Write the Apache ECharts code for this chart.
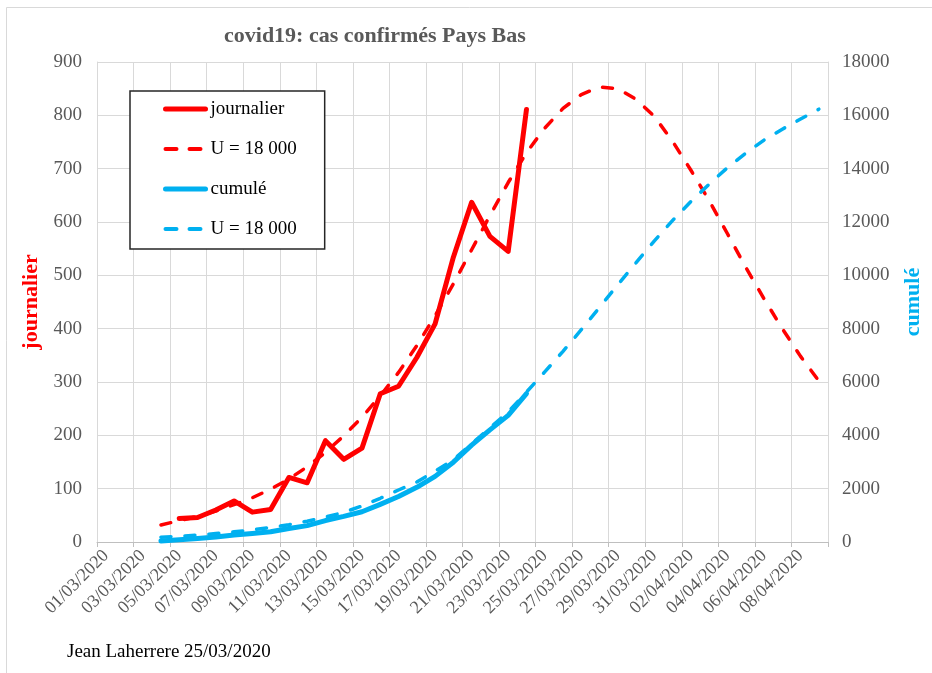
<!DOCTYPE html>
<html lang="fr">
<head>
    <meta charset="UTF-8">
    <title>covid19: cas confirmés Pays Bas</title>
    <style>
        html, body {margin: 0; padding: 0; background: #fff;}
        #main {width: 932px; height: 673px;}
    </style>
</head>
<body>
<div id="main"></div>
<script src="https://cdn.jsdelivr.net/npm/echarts@6/dist/echarts.min.js"></script>
<script>
    // jours (axe des x)
    let dates = [
        '01/03/2020', '02/03/2020', '03/03/2020', '04/03/2020', '05/03/2020', '06/03/2020', '07/03/2020',
        '08/03/2020', '09/03/2020', '10/03/2020', '11/03/2020', '12/03/2020', '13/03/2020', '14/03/2020',
        '15/03/2020', '16/03/2020', '17/03/2020', '18/03/2020', '19/03/2020', '20/03/2020', '21/03/2020',
        '22/03/2020', '23/03/2020', '24/03/2020', '25/03/2020', '26/03/2020', '27/03/2020', '28/03/2020',
        '29/03/2020', '30/03/2020', '31/03/2020', '01/04/2020', '02/04/2020', '03/04/2020', '04/04/2020',
        '05/04/2020', '06/04/2020', '07/04/2020', '08/04/2020', '09/04/2020'
    ];

    // cas journaliers, à partir du 05/03
    let journalierStart = '05/03/2020';
    let journalier = [44, 46, 60, 77, 56, 61, 121, 111, 190, 155, 176, 278, 292, 346, 409, 534, 637, 573, 545, 811];

    // modèle journalier U = 18 000, à partir du 04/03
    let modeleStart = '04/03/2020';
    let modeleJour = [32, 40, 48, 58, 70, 83, 99, 118, 141, 168,
        199, 234, 274, 318, 368, 424, 484, 548, 612, 674,
        730, 776, 813, 839, 853, 850, 830, 798, 751, 697,
        640, 578, 515, 456, 400, 348, 302];

    // cumul, à partir du 04/03
    let cumuleStart = '04/03/2020';
    let cumule = [38, 82, 128, 188, 265, 321, 382, 503, 614, 804, 959, 1135, 1413, 1705, 2051, 2460, 2994,
        3631, 4204, 4749, 5560];

    // modèle cumulé U = 18 000, à partir du 04/03
    let modeleCumul = [180, 215, 260, 315, 380, 455, 545, 650, 780, 935,
        1110, 1350, 1640, 1950, 2250, 2660, 3080, 3690, 4280, 4880,
        5620, 6380, 7150, 7960, 8800, 9650, 10480, 11290, 12060, 12770,
        13420, 14040, 14580, 15070, 15480, 15860, 16230];

    let leftTicks = {min: 0, max: 900, interval: 100};
    let rightTicks = {min: 0, max: 18000, interval: 2000};

    let serif = "'Liberation Serif', 'Times New Roman', serif";
    let red = '#ff0000';
    let blue = '#00b0f0';
    let grey = '#595959';
    let gridColor = '#d9d9d9';

    // place les valeurs sur l'axe des dates
    let place = (start, values) => {
        let out = dates.map(() => null);
        let k = dates.indexOf(start);
        values.forEach((v, i) => {
            out[k + i] = v;
        });
        return out;
    };

    let solid = (c) => ({color: c, width: 5, type: 'solid', cap: 'round', join: 'round'});
    let dashed = (c) => ({color: c, width: 3.5, type: [10, 14], cap: 'round', join: 'round'});

    let myChart = echarts.init(document.getElementById('main'), null, {renderer: 'canvas'});
    let option = {
        animation: false,
        backgroundColor: '#fff',
        textStyle: {fontFamily: serif},
        title: {
            text: 'covid19: cas confirmés Pays Bas',
            left: 224,
            top: 24,
            padding: 0,
            textStyle: {fontFamily: serif, fontSize: 22, fontWeight: 'bold', color: grey, lineHeight: 24}
        },
        legend: {
            orient: 'vertical',
            left: 130,
            top: 91,
            padding: [8, 28, 10, 33],
            itemGap: 20,
            itemWidth: 40,
            itemHeight: 14,
            backgroundColor: '#fff',
            borderColor: '#262626',
            borderWidth: 1.5,
            borderRadius: 0,
            itemStyle: {opacity: 0},
            textStyle: {fontFamily: serif, fontSize: 19, color: '#000', lineHeight: 20},
            data: [
                {name: 'journalier', lineStyle: solid(red)},
                {name: 'U = 18 000', lineStyle: {color: red, width: 4, type: [11, 13], cap: 'round'}},
                {name: 'cumulé', lineStyle: solid(blue)},
                {name: 'U\u00a0=\u00a018\u00a0000', lineStyle: {color: blue, width: 4, type: [11, 13], cap: 'round'}}
            ]
        },
        grid: {left: 97, right: 98, top: 62, bottom: 131, containLabel: false},
        xAxis: {
            type: 'category',
            data: dates,
            boundaryGap: true,
            axisLine: {lineStyle: {color: '#bfbfbf', width: 1}},
            axisTick: {show: true, interval: 1, length: 5, lineStyle: {color: '#bfbfbf'}},
            axisLabel: {interval: 1, rotate: 45, margin: 11, fontFamily: serif, fontSize: 18, color: grey},
            splitLine: {show: true, interval: 1, lineStyle: {color: gridColor, width: 1}}
        },
        yAxis: [
            {
                type: 'value',
                min: leftTicks.min,
                max: leftTicks.max,
                interval: leftTicks.interval,
                name: 'journalier',
                nameLocation: 'middle',
                nameRotate: 90,
                nameGap: 49,
                nameTextStyle: {fontFamily: serif, fontSize: 22, fontWeight: 'bold', color: red},
                axisLine: {show: true, lineStyle: {color: gridColor}},
                axisTick: {show: false},
                axisLabel: {margin: 15, fontFamily: serif, fontSize: 19, color: grey},
                splitLine: {show: true, lineStyle: {color: gridColor, width: 1}}
            },
            {
                type: 'value',
                min: rightTicks.min,
                max: rightTicks.max,
                interval: rightTicks.interval,
                name: 'cumulé',
                nameLocation: 'middle',
                nameRotate: 90,
                nameGap: 74,
                nameTextStyle: {fontFamily: serif, fontSize: 22, fontWeight: 'bold', color: blue},
                axisLine: {show: true, lineStyle: {color: gridColor}},
                axisTick: {show: false},
                axisLabel: {
                    margin: 14, fontFamily: serif, fontSize: 19, color: grey,
                    formatter: (v) => String(v)
                },
                splitLine: {show: false}
            }
        ],
        series: [
            {
                name: 'journalier',
                type: 'line',
                yAxisIndex: 0,
                data: place(journalierStart, journalier),
                symbol: 'none',
                color: red,
                lineStyle: solid(red)
            },
            {
                name: 'U = 18 000',
                type: 'line',
                yAxisIndex: 0,
                data: place(modeleStart, modeleJour),
                symbol: 'none',
                color: red,
                lineStyle: dashed(red)
            },
            {
                name: 'cumulé',
                type: 'line',
                yAxisIndex: 1,
                data: place(cumuleStart, cumule),
                symbol: 'none',
                color: blue,
                lineStyle: solid(blue)
            },
            {
                name: 'U\u00a0=\u00a018\u00a0000',
                type: 'line',
                yAxisIndex: 1,
                data: place(modeleStart, modeleCumul),
                symbol: 'none',
                color: blue,
                lineStyle: dashed(blue)
            }
        ],
        graphic: [
            {
                type: 'rect',
                silent: true,
                shape: {x: 6.5, y: 7.5, width: 940, height: 700},
                style: {fill: 'none', stroke: gridColor, lineWidth: 1}
            },
            {
                type: 'text',
                left: 67,
                top: 643,
                style: {text: 'Jean Laherrere 25/03/2020', font: '19px ' + serif, fill: '#000'}
            }
        ]
    };
    myChart.setOption(option);
</script>
</body>
</html>
